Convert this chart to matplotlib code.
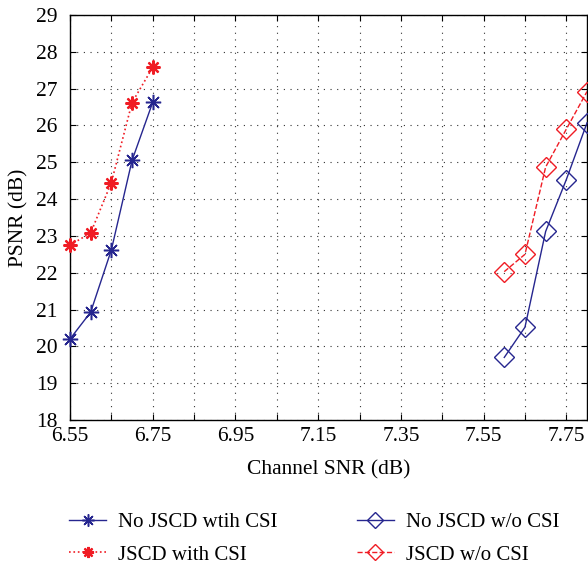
import matplotlib
matplotlib.use("Agg")
import matplotlib.pyplot as plt
import numpy as np

x_csi = [6.55, 6.60, 6.65, 6.70, 6.75]
y_nojscd_csi = [20.20, 20.93, 22.62, 25.05, 26.63]
y_jscd_csi = [22.75, 23.08, 24.45, 26.62, 27.58]
x_nocsi = [7.60, 7.65, 7.70, 7.75, 7.80]
y_nojscd_nocsi = [19.70, 20.52, 23.12, 24.53, 26.07]
y_jscd_nocsi = [22.03, 22.50, 24.87, 25.90, 26.92]
xticks = [6.55, 6.75, 6.95, 7.15, 7.35, 7.55, 7.75]
xminor = [6.65, 6.85, 7.05, 7.25, 7.45, 7.65]
yticks = list(range(18, 30))

plt.rcParams['font.family'] = ['Liberation Serif', 'DejaVu Serif']
fig = plt.figure(figsize=(5.88, 5.65), dpi=100)
ax = fig.add_axes([70/588, 1 - 420/565, (587 - 70)/588, (420 - 15)/565])

blue = '#26268f'
red = '#f01c24'
ax.plot(x_csi, y_nojscd_csi, color=blue, ls='-', lw=1, marker=(8, 2, 0), ms=11, mew=1.1,
        label='No JSCD wtih CSI', clip_on=False, zorder=3)
ax.plot(x_csi, y_jscd_csi, color=red, ls=':', lw=1.2, marker=(8, 2, 0), ms=10, mew=1.6,
        label='JSCD with CSI', clip_on=False, zorder=3)
ax.plot(x_nocsi, y_nojscd_nocsi, color=blue, ls='-', lw=1, marker='D', ms=10, mfc='none', mew=1,
        label='No JSCD w/o CSI', clip_on=False, zorder=3)
ax.plot(x_nocsi, y_jscd_nocsi, color=red, ls='--', lw=1, marker='D', ms=10, mfc='none', mew=1,
        label='JSCD w/o CSI', clip_on=True, zorder=3)

ax.set_xlim(6.55, 7.80)
ax.set_ylim(18, 29)
ax.set_xticks(xticks)
ax.set_xticks(xminor, minor=True)
ax.set_xticklabels([f'{t:.2f}' for t in xticks])
ax.set_yticks(yticks)
ax.grid(True, which='both', axis='x', ls=(0, (1, 5)), color='#333333', lw=0.8)
ax.grid(True, which='major', axis='y', ls=(0, (1, 5)), color='#333333', lw=0.8)
ax.tick_params(which='both', direction='in', length=4, width=0.8, top=True, right=True)
ax.tick_params(axis='x', labelsize=15.5, pad=5)
ax.tick_params(axis='y', labelsize=15.5, pad=9)
for s in ax.spines.values():
    s.set_linewidth(1)
ax.set_xlabel('Channel SNR (dB)', fontsize=15.5, labelpad=10)
ax.set_ylabel('PSNR (dB)', fontsize=15.5, labelpad=5)

h, l = ax.get_legend_handles_labels()
fig.legend(h, l, loc='center', bbox_to_anchor=(0.534, 1 - 538.5/565), ncol=2, frameon=False,
           fontsize=15, columnspacing=3.8, handlelength=1.8, handletextpad=0.55,
           labelspacing=0.62, markerscale=0.8)

fig.savefig('out.png', dpi=100)
